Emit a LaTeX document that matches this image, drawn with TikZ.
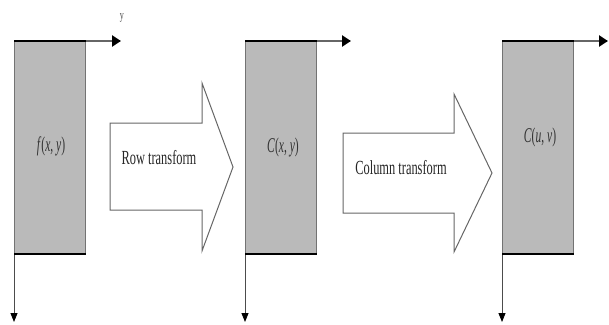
\documentclass[tikz,border=0pt]{standalone}
\usepackage{fontspec}
\setmainfont{Liberation Serif}
\usetikzlibrary{arrows.meta}
\newcommand{\narrowtxt}[1]{\scalebox{0.62}[1]{#1}}
\newcommand{\narrowlbl}[1]{\scalebox{0.55}[1]{#1}}
\begin{document}
\begin{tikzpicture}[x=1pt,y=-1pt,
  panel/.style={fill=black!27, draw=black!55, line width=0.8pt, minimum width=71pt, minimum height=212pt, inner sep=0pt, anchor=north west},
  edgeline/.style={line width=1.8pt, draw=black},
  axisright/.style={line width=2.4pt, draw=black!60, -{Triangle[length=9pt,width=11pt,color=black]}},
  axisdown/.style={line width=0.9pt, draw=black!70, -{Triangle[length=9pt,width=7pt,color=black]}},
  blockarrow/.style={draw=black!60, line width=1pt, fill=white, line join=miter},
  lbl/.style={inner sep=0pt, font=\fontsize{21}{23}\selectfont, text=black!80},
  arrowtext/.style={inner sep=0pt, font=\fontsize{20}{22}\selectfont, text=black!85}
]
\useasboundingbox (0,0) rectangle (609,324);

% panels
\node[panel] (p1) at (14,41) {};
\node[panel] (p2) at (245,41) {};
\node[panel] (p3) at (502,41) {};

% axis end points
\coordinate (r1) at (121,41);
\coordinate (r2) at (351,41);
\coordinate (r3) at (608,41);
\coordinate (d1) at (14,322);
\coordinate (d2) at (245,322);
\coordinate (d3) at (502,322);

\foreach \p/\r/\d in {p1/r1/d1, p2/r2/d2, p3/r3/d3}{
  \draw[axisright] (\p.north east) -- (\r);
  \draw[axisdown] (\p.south west) -- (\d);
  \draw[edgeline] (\p.north west) -- (\p.north east);
  \draw[edgeline] (\p.south west) -- (\p.south east);
}

% labels in panels
\node[lbl] (t1) at (51,146) {\narrowlbl{\textit{f}(\textit{x}, \textit{y})}};
\node[lbl] (t2) at (283,147) {\narrowlbl{\textit{C}(\textit{x}, \textit{y})}};
\node[lbl] (t3) at (540,137) {\narrowlbl{\textit{C}(\textit{u}, \textit{v})}};
\node[inner sep=0pt, font=\fontsize{13}{15}\selectfont, text=black!70] (ylab) at (122,18) {\narrowtxt{y}};

% block arrows
\draw[blockarrow] (110,123) -- (202,123) -- (202,83) -- (233,167) -- (202,251) -- (202,210) -- (110,210) -- cycle;
\draw[blockarrow] (343,133) -- (454,133) -- (454,94) -- (492,173) -- (454,252) -- (454,213) -- (343,213) -- cycle;
\node[arrowtext] (rowt) at (159,158) {\narrowtxt{Row transform}};
\node[arrowtext] (colt) at (401,168) {\narrowtxt{Column transform}};
\end{tikzpicture}
\end{document}
